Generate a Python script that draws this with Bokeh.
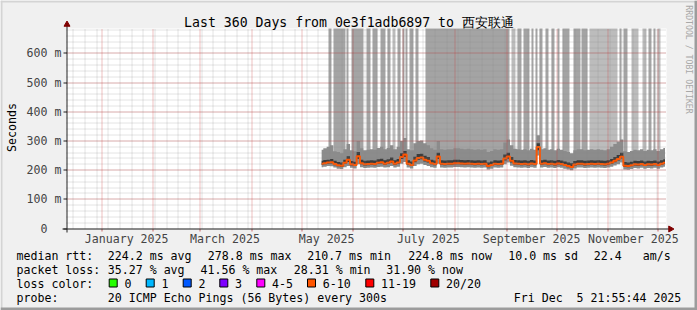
from math import pi, floor
from bokeh.plotting import figure
from bokeh.models import Label, BoxAnnotation, Range1d
from bokeh.embed import file_html
from bokeh.resources import INLINE

MONO = "DejaVu Sans Mono"

# ---------------- data ----------------
title_text = "Last 360 Days from 0e3f1adb6897 to 西安联通"
# time axis: day of 2025 (0 = 2025-01-01 00:00)
t_begin = -21.086    # Tue Dec 10 2024 21:55:44
t_end = 338.914      # Fri Dec  5 2025 21:55:44
y_max = 685.7        # ms

month_starts = [0, 31, 59, 90, 120, 151, 181, 212, 243, 273, 304, 334]
sundays = list(range(-17, 339, 7))
month_label_days = [15, 74, 135, 196, 258, 319]
month_labels = ["January 2025", "March 2025", "May 2025", "July 2025",
                "September 2025", "November 2025"]
y_major = [0, 100, 200, 300, 400, 500, 600]
y_labels = ["0\u00a0\u00a0", "100 m", "200 m", "300 m", "400 m", "500 m", "600 m"]
y_minor = list(range(20, 686, 20))

days = list(range(132, 339, 2))
median = [222, 224, 226, 227, 221, 217, 215, 225, 236, 220,
          218, 248, 224, 220, 221, 222, 221, 225, 227, 222,
          225, 230, 222, 226, 245, 254, 222, 218, 233, 242,
          243, 236, 232, 224, 221, 247, 222, 221, 222, 222,
          224, 224, 223, 222, 223, 222, 221, 222, 221, 222,
          214, 218, 222, 221, 222, 240, 247, 232, 223, 222,
          221, 222, 220, 223, 221, 279, 222, 224, 221, 222,
          220, 223, 221, 218, 214, 211, 219, 222, 222, 220,
          221, 222, 221, 222, 221, 220, 222, 226, 232, 238,
          246, 215, 214, 217, 220, 219, 221, 218, 220, 219,
          221, 218, 222, 225]
ping_min = [210, 212, 214, 213, 209, 205, 204, 210, 214, 208,
            206, 220, 210, 207, 208, 209, 208, 211, 212, 209,
            210, 214, 209, 212, 222, 228, 209, 206, 214, 220,
            222, 218, 214, 210, 208, 222, 209, 208, 209, 209,
            211, 211, 210, 209, 210, 209, 208, 209, 208, 209,
            202, 205, 209, 208, 209, 220, 226, 215, 210, 209,
            208, 209, 207, 210, 208, 250, 209, 211, 208, 209,
            207, 210, 208, 205, 202, 200, 206, 209, 209, 207,
            208, 209, 208, 209, 208, 207, 209, 212, 216, 220,
            226, 202, 201, 204, 207, 206, 208, 205, 207, 206,
            208, 205, 209, 212]
ping_q1 = [218, 220, 222, 223, 217, 213, 211, 221, 228, 216,
           214, 238, 220, 216, 217, 218, 217, 221, 223, 218,
           221, 225, 218, 222, 238, 245, 218, 214, 227, 236,
           237, 230, 226, 220, 217, 238, 218, 217, 218, 218,
           220, 220, 219, 218, 219, 218, 217, 218, 217, 218,
           210, 214, 218, 217, 218, 233, 239, 226, 219, 218,
           217, 218, 216, 219, 217, 268, 218, 220, 217, 218,
           216, 219, 217, 214, 210, 208, 215, 218, 218, 216,
           217, 218, 217, 218, 217, 216, 218, 222, 227, 233,
           240, 211, 210, 213, 216, 215, 217, 214, 216, 215,
           217, 214, 218, 221]
ping_q3 = [232, 235, 236, 238, 232, 228, 226, 236, 248, 231,
           229, 262, 236, 232, 233, 234, 233, 237, 239, 234,
           237, 243, 234, 238, 258, 266, 234, 230, 246, 255,
           256, 249, 245, 236, 233, 260, 234, 233, 234, 234,
           236, 236, 235, 234, 235, 234, 233, 234, 233, 234,
           226, 230, 234, 233, 234, 254, 260, 245, 235, 234,
           233, 234, 232, 235, 233, 292, 234, 236, 233, 234,
           232, 235, 233, 230, 226, 224, 231, 234, 234, 232,
           233, 234, 233, 234, 233, 232, 234, 238, 245, 252,
           260, 228, 226, 229, 232, 231, 233, 230, 232, 231,
           233, 230, 234, 237]
ping_max = [270, 275, 280, 285, 265, 262, 258, 272, 290, 268,
            265, 300, 275, 268, 270, 272, 270, 276, 280, 272,
            276, 285, 272, 280, 300, 310, 272, 268, 292, 300,
            302, 292, 285, 275, 270, 300, 272, 270, 272, 272,
            275, 275, 273, 272, 273, 272, 270, 272, 270, 272,
            262, 266, 272, 270, 272, 295, 305, 285, 273, 272,
            270, 272, 268, 273, 270, 320, 272, 275, 270, 272,
            268, 273, 270, 266, 262, 258, 268, 272, 272, 268,
            270, 272, 270, 272, 270, 268, 272, 280, 290, 298,
            305, 265, 262, 266, 270, 268, 272, 266, 270, 268,
            272, 266, 272, 276]

# periods where part of the pings ran off the top of the graph
off_start = [136.1, 139.1, 146.9, 149.9, 158.9, 162.5, 167.3, 171.5, 174.5, 177.5,
             180.5, 182.3, 184.7, 188.3, 194.3, 245.9, 249.5, 253.1, 257.9, 260.3,
             262.7, 266.3, 269.9, 273.5, 276.5, 283.1, 287.9, 292.7, 310.7, 313.1,
             317.9, 324.5, 328.1, 331.1, 333.5]
off_end = [137.9, 146.3, 148.1, 157.1, 161.3, 165.5, 170.3, 173.3, 176.3, 179.3,
           181.7, 183.5, 187.1, 190.1, 244.7, 248.3, 251.9, 256.7, 259.1, 261.5,
           264.5, 268.1, 271.7, 274.7, 280.7, 287.3, 291.5, 309.5, 311.9, 315.5,
           322.1, 326.9, 329.9, 332.3, 335.3]
off_level = ["many", "many", "many", "many", "many", "many", "many", "many", "few", "many",
             "many", "many", "many", "many", "many", "few", "many", "many", "many", "many",
             "many", "many", "many", "many", "many", "many", "many", "few", "many", "many",
             "few", "few", "many", "many", "few"]
off_bottom = [250] * 35

loss_labels = ["0", "1", "2", "3", "4-5", "6-10", "11-19", "20/20"]
loss_colors = ["#26ff00", "#00b8ff", "#0059ff", "#7e00ff", "#ff00ff", "#ff5500", "#ff0000", "#a00000"]
median_color = "#ff5500"

rtt_avg, rtt_max, rtt_min, rtt_now, rtt_sd, rtt_ams = 224.2, 278.8, 210.7, 224.8, 10.0, 22.4
loss_avg, loss_max, loss_min, loss_now = 35.27, 41.56, 28.31, 31.90
probe_text = "20 ICMP Echo Pings (56 Bytes) every 300s"
stamp_text = "Fri Dec\u00a0 5 21:55:44 2025"

# ---------------- layout helpers (canvas pixels <-> data) ----------------
W, H = 697, 310
FL, FT, FW, FH = 66, 28, 600, 200


def X(px):
    return t_begin + (px - FL) * (t_end - t_begin) / FW


def Y(py):
    return (FT + FH - py) * y_max / FH


def sx(d):  # snap a time position to a pixel centre (crisp 1px lines)
    return X(floor(FL + (d - t_begin) * FW / (t_end - t_begin)) + 0.5)


def sy(v):
    return Y(floor(FT + FH - v * FH / y_max) + 0.5)


p = figure(width=W, height=H, output_backend="svg", toolbar_location=None, title=None,
           x_range=Range1d(X(0), X(W)), y_range=Range1d(Y(H), Y(0)),
           x_axis_location=None, y_axis_location=None,
           min_border=0, min_border_left=0, min_border_right=0,
           min_border_top=0, min_border_bottom=0,
           background_fill_color="#f0f0f0", border_fill_color="#f0f0f0",
           outline_line_color=None)
p.grid.visible = False

# graph canvas
p.quad(left=[t_begin], right=[t_end], bottom=[0], top=[y_max], fill_color="#ffffff", line_color=None)

# off-scale smoke
shade = {"many": "#a4a4a4", "few": "#bcbcbc"}
p.quad(left=off_start, right=off_end, bottom=off_bottom, top=[y_max] * len(off_start),
       fill_color=[shade[v] for v in off_level], line_color=None)
# smoke
p.varea_step(x=days, y1=ping_min, y2=ping_max, step_mode="center", fill_color="#8c8c8c")
p.varea_step(x=days, y1=ping_q1, y2=ping_q3, step_mode="center", fill_color="#3c3c3c")
# median
p.step(days, median, mode="center", line_color=median_color, line_width=2)

# grid (drawn on top, as rrdtool does)
gx_minor = [sx(d) for d in sundays]
gy_minor = [sy(v) for v in y_minor]
gx_major = [sx(d) for d in month_starts]
gy_major = [sy(v) for v in y_major[1:]]
p.segment(x0=gx_minor, y0=[0] * len(gx_minor), x1=gx_minor, y1=[y_max] * len(gx_minor),
          line_color="#8c8c8c", line_alpha=0.45, line_dash="1 1")
p.segment(x0=[t_begin] * len(gy_minor), y0=gy_minor, x1=[t_end] * len(gy_minor), y1=gy_minor,
          line_color="#8c8c8c", line_alpha=0.45, line_dash="1 1")
p.segment(x0=gx_major, y0=[0] * len(gx_major), x1=gx_major, y1=[y_max] * len(gx_major),
          line_color="#c83232", line_alpha=0.6, line_dash="1 1")
p.segment(x0=[t_begin] * len(gy_major), y0=gy_major, x1=[t_end] * len(gy_major), y1=gy_major,
          line_color="#c83232", line_alpha=0.6, line_dash="1 1")

# axis ticks
ay = sy(0)
ax = X(66.5)
p.segment(x0=[X(63)] * len(y_major), y0=[sy(v) for v in y_major], x1=[ax] * len(y_major),
          y1=[sy(v) for v in y_major], line_color="#202020")
p.segment(x0=gx_major, y0=[ay] * len(gx_major), x1=gx_major, y1=[Y(231)] * len(gx_major),
          line_color="#c86464")
# axis lines + arrows
p.segment(x0=[X(62)], y0=[ay], x1=[X(670)], y1=[ay], line_color="#202020")
p.segment(x0=[ax], y0=[Y(232)], x1=[ax], y1=[Y(25)], line_color="#202020")
p.scatter(x=[X(670)], y=[ay], marker="triangle", size=6, angle=-pi / 2,
          fill_color="#7f0000", line_color="#7f0000")
p.scatter(x=[ax], y=[Y(24)], marker="triangle", size=6,
          fill_color="#7f0000", line_color="#7f0000")


def put(text, px, py, size="11.6px", align="left", color="#000000", angle=0.0):
    p.add_layout(Label(x=X(px), y=Y(py), text=text, text_font=MONO, text_font_size=size,
                       text_color=color, text_align=align, text_baseline="middle", angle=angle))


# tick labels
for d, lab in zip(month_label_days, month_labels):
    p.add_layout(Label(x=d, y=Y(238.5), text=lab, text_font=MONO, text_font_size="11.6px",
                       text_align="center", text_baseline="middle"))
for v, lab in zip(y_major, y_labels):
    p.add_layout(Label(x=X(61), y=v, text=lab, text_font=MONO, text_font_size="11.6px",
                       text_align="right", text_baseline="middle"))

put(title_text, W / 2, 22, size="13.2px", align="center")
put("Seconds", 11, 127, angle=pi / 2, align="center")
put("RRDTOOL / TOBI OETIKER", 688, 59, size="8.2px", align="center", color="#a8a8a8", angle=-pi / 2)

r1 = 255
put("median rtt:", 16, r1)
rtt_items = [f"{rtt_avg:.1f} ms avg", f"{rtt_max:.1f} ms max", f"{rtt_min:.1f} ms min",
             f"{rtt_now:.1f} ms now", f"{rtt_sd:.1f} ms sd", f"{rtt_ams:.1f}", "am/s"]
for t, xp in zip(rtt_items, [107.3, 207.3, 306.7, 407.7, 507.7, 593.3, 642.3]):
    put(t, xp, r1)
r2 = r1 + 14
put("packet loss:", 16, r2)
loss_items = [f"{loss_avg:.2f} % avg", f"{loss_max:.2f} % max", f"{loss_min:.2f} % min",
              f"{loss_now:.2f} % now"]
for t, xp in zip(loss_items, [107.3, 200.0, 293.3, 385.7]):
    put(t, xp, r2)
r3 = r2 + 14
put("loss color:", 16, r3)
box_x = [108.7, 145.7, 182.7, 219.3, 256.3, 307.0, 365.3, 430.3]
p.quad(left=[X(b) for b in box_x], right=[X(b + 8) for b in box_x],
       top=[Y(r3 - 4.5)] * 8, bottom=[Y(r3 + 3.5)] * 8,
       fill_color=loss_colors, line_color="#000000", line_width=1)
for lab, bx in zip(loss_labels, box_x):
    put(lab, bx + 15.3, r3)
r4 = r3 + 14
put("probe:", 16, r4)
put(probe_text, 107.3, r4)
put(stamp_text, 513.3, r4)

# image border shading
for l, r, b, t, c in [(0, W, 2, 0, "#d4d4d4"), (0, 2, H, 0, "#d4d4d4"),
                      (0, W, H, H - 3, "#9c9c9c"), (W - 3, W, H, 0, "#9c9c9c")]:
    p.add_layout(BoxAnnotation(left=X(l), right=X(r), top=Y(t), bottom=Y(b),
                               fill_color=c, fill_alpha=1.0, line_color=None))

open("out.html", "w").write(file_html(p, INLINE))
